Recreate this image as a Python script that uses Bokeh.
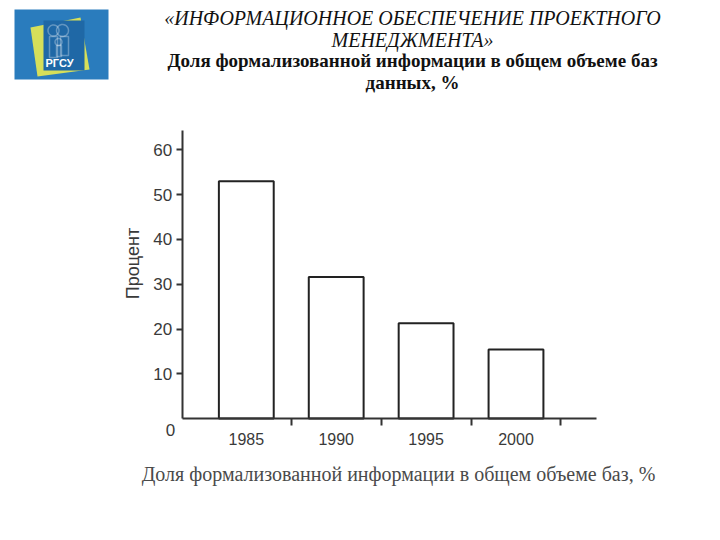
import numpy as np
from bokeh.plotting import figure
from bokeh.models import Range1d, FixedTicker, Label, BoxAnnotation, PolyAnnotation
from bokeh.embed import file_html
from bokeh.resources import INLINE

# ---- data ----
categories = ["1985", "1990", "1995", "2000"]
values = [53.0, 31.6, 21.3, 15.4]
y_ticks = [10, 20, 30, 40, 50, 60]
zero_label = "0"
title_line1 = "«ИНФОРМАЦИОННОЕ ОБЕСПЕЧЕНИЕ ПРОЕКТНОГО"
title_line2 = "МЕНЕДЖМЕНТА»"
title_line3 = "Доля формализованной информации в общем объеме баз"
title_line4 = "данных, %"
y_label = "Процент"
x_label = "Доля формализованной информации в общем объеме баз, %"
logo_text = "РГСУ"

W, H = 704, 524
TXT = "#3a3a3a"

# pixel geometry of the chart area
X0_PX, X_STEP = 245.8, 89.9      # centre of first bar, distance between bars
Y0_PX, Y_STEP = 418.1, 4.48      # baseline, pixels per percent
x_lo, x_hi = -0.713, 3.895       # extent of the x axis line
y_lo, y_hi = 0.0, 64.3           # extent of the y axis line


def sx(px):
    return px


def sy(py):
    return H - py


p = figure(width=W, height=H, output_backend="svg", toolbar_location=None,
           x_range=Range1d(-X0_PX / X_STEP, (W - X0_PX) / X_STEP),
           y_range=Range1d((Y0_PX - H) / Y_STEP, Y0_PX / Y_STEP),
           min_border_left=0, min_border_right=0,
           min_border_top=0, min_border_bottom=0)
p.title.visible = False
p.outline_line_color = None
p.grid.visible = False
p.background_fill_color = "white"
p.border_fill_color = "white"

xs = list(range(len(categories)))
p.vbar(x=xs, top=values, bottom=0, width=0.61, fill_color="white",
       line_color="#222222", line_width=2)

# x axis
p.xaxis.fixed_location = 0
p.xaxis.bounds = (x_lo, x_hi)
p.xaxis.ticker = FixedTicker(ticks=xs, minor_ticks=[i + 0.5 for i in xs])
p.xaxis.major_label_overrides = {i: c for i, c in zip(xs, categories)}
p.xaxis.major_tick_out = 0
p.xaxis.major_tick_in = 0
p.xaxis.minor_tick_out = 7
p.xaxis.minor_tick_in = 0
p.xaxis.minor_tick_line_color = "#333333"
p.xaxis.minor_tick_line_width = 2
p.xaxis.axis_line_color = "#333333"
p.xaxis.axis_line_width = 2
p.xaxis.major_label_standoff = 7
p.xaxis.major_label_text_font = "Liberation Sans"
p.xaxis.major_label_text_font_size = "16px"
p.xaxis.major_label_text_color = TXT

# y axis
p.yaxis.fixed_location = x_lo
p.yaxis.bounds = (y_lo, y_hi)
p.yaxis.ticker = FixedTicker(ticks=y_ticks, minor_ticks=[])
p.yaxis.major_tick_out = 6
p.yaxis.major_tick_in = 0
p.yaxis.major_tick_line_color = "#333333"
p.yaxis.major_tick_line_width = 2
p.yaxis.minor_tick_out = 0
p.yaxis.minor_tick_in = 0
p.yaxis.axis_line_color = "#333333"
p.yaxis.axis_line_width = 2
p.yaxis.major_label_standoff = 4
p.yaxis.major_label_text_font = "Liberation Sans"
p.yaxis.major_label_text_font_size = "17px"
p.yaxis.major_label_text_color = TXT

p.add_layout(Label(x=x_lo, y=0, x_offset=-7, y_offset=-11, text=zero_label,
                   text_align="right", text_baseline="middle",
                   text_font="Liberation Sans", text_font_size="17px",
                   text_color=TXT))

# axis titles
p.add_layout(Label(x=sx(132), y=sy(263), x_units="screen", y_units="screen",
                   text=y_label, angle=np.pi / 2, text_align="center",
                   text_baseline="middle", text_font="Liberation Sans",
                   text_font_size="18px", text_color=TXT))
p.add_layout(Label(x=sx(398), y=sy(473), x_units="screen", y_units="screen",
                   text=x_label, text_align="center", text_baseline="middle",
                   text_font="Liberation Serif", text_font_size="20px",
                   text_color="#4a4a4a"))

# titles
for txt, py, style in [(title_line1, 17, "italic"), (title_line2, 39, "italic"),
                       (title_line3, 60, "bold"), (title_line4, 82, "bold")]:
    p.add_layout(Label(x=sx(412), y=sy(py), x_units="screen", y_units="screen",
                       text=txt, text_align="center", text_baseline="middle",
                       text_font="Liberation Serif",
                       text_font_size="20px" if style == "italic" else "19px",
                       text_font_style=style, text_color="#111111"))

# ---- logo ----
p.add_layout(BoxAnnotation(left=sx(14), right=sx(108), top=sy(9), bottom=sy(79),
                           left_units="screen", right_units="screen",
                           top_units="screen", bottom_units="screen",
                           fill_color="#2a7cbd", fill_alpha=1, line_color=None))
p.add_layout(PolyAnnotation(xs=[sx(30), sx(80), sx(89), sx(37)],
                            ys=[sy(27), sy(17), sy(69), sy(76)],
                            xs_units="screen", ys_units="screen",
                            fill_color="#d6df5a", fill_alpha=1, line_color=None))
p.add_layout(BoxAnnotation(left=sx(43), right=sx(84), top=sy(20), bottom=sy(70),
                           left_units="screen", right_units="screen",
                           top_units="screen", bottom_units="screen",
                           fill_color="#1f68a6", fill_alpha=1, line_color=None))

t = np.linspace(0, 2 * np.pi, 30)
for cx, cy, r in [(53, 30, 5.5), (62, 30, 6), (58, 41.5, 3.5)]:
    p.add_layout(PolyAnnotation(xs=list(sx(cx + r * np.cos(t))),
                                ys=list(sy(cy + r * np.sin(t))),
                                xs_units="screen", ys_units="screen",
                                fill_alpha=0, line_color="white", line_width=1.5))
for x0, x1, y0, y1 in [(49, 57, 36, 57), (60, 68, 36, 55), (56, 61, 45, 56)]:
    p.add_layout(PolyAnnotation(xs=[sx(x0), sx(x1), sx(x1), sx(x0)],
                                ys=[sy(y0), sy(y0), sy(y1), sy(y1)],
                                xs_units="screen", ys_units="screen",
                                fill_alpha=0, line_color="white", line_width=1.5))
p.add_layout(Label(x=sx(59), y=sy(62), x_units="screen", y_units="screen",
                   text=logo_text, text_align="center", text_baseline="middle",
                   text_font="Liberation Sans", text_font_size="11px",
                   text_font_style="bold", text_color="white"))

open("out.html", "w").write(file_html(p, INLINE))
